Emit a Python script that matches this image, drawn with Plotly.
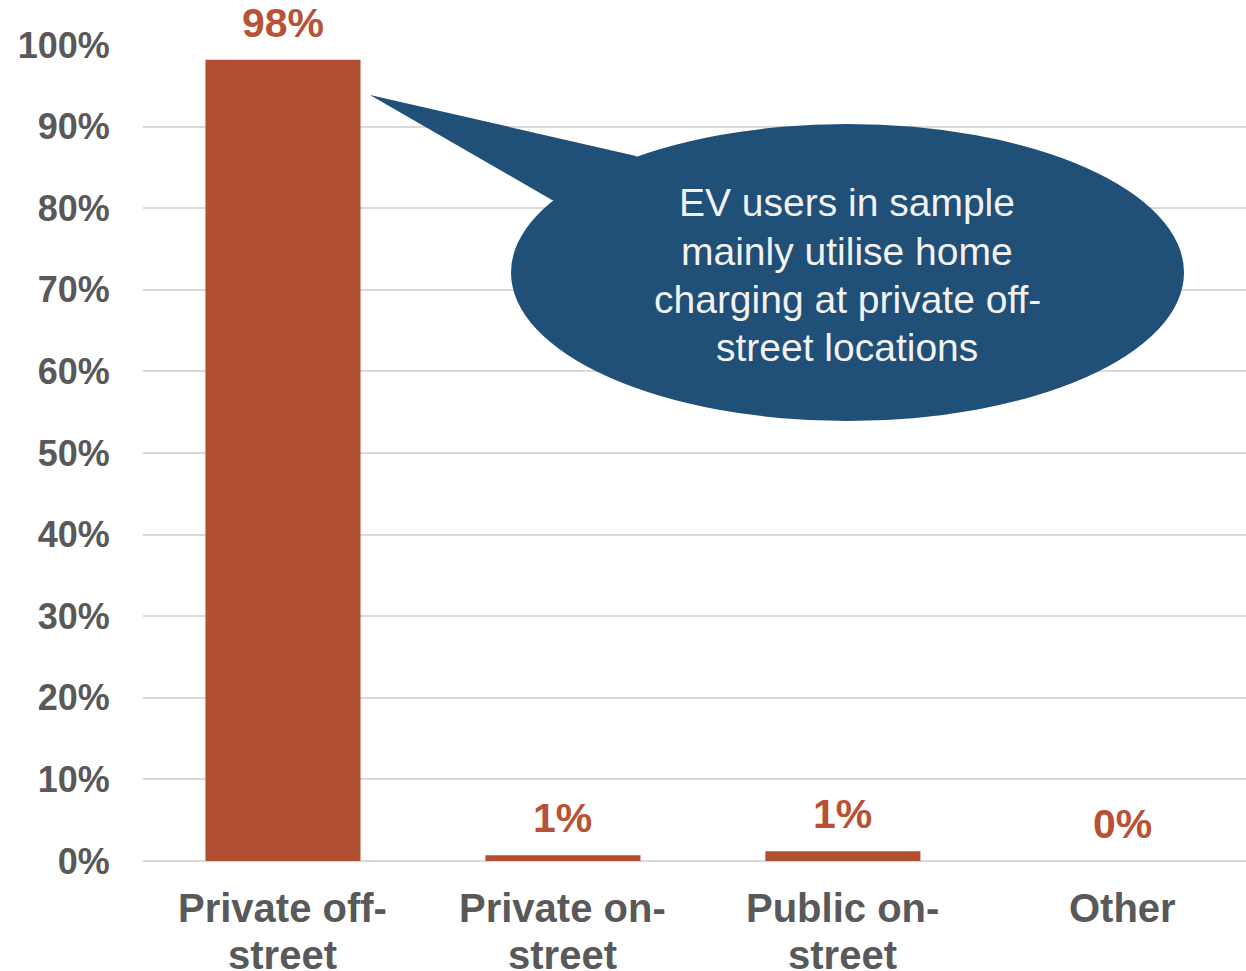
import plotly.graph_objects as go

category_lines = [["Private off-", "street"], ["Private on-", "street"],
                  ["Public on-", "street"], ["Other"]]
categories = [" ".join(c) for c in category_lines]
values = [98.2, 0.7, 1.2, 0.0]
labels = ["98%", "1%", "1%", "0%"]
tick_vals = [0, 10, 20, 30, 40, 50, 60, 70, 80, 90, 100]
tick_text = [f"{v}%" for v in tick_vals]
callout_lines = ["EV users in sample", "mainly utilise home",
                 "charging at private off-", "street locations"]

W, H = 1246, 971
PLOT_L, PLOT_T, PLOT_B = 143, 45, 861
L, T, R = PLOT_L, PLOT_T, 0
B = H - PLOT_B
PW, PH = W - L - R, H - T - B

BAR = "#B04F32"
LBL = "#B85236"
BLUE = "#204F78"
GRAY = "#595959"
FONT = "Liberation Sans, Arial, sans-serif"

def px(x):
    return (x - PLOT_L) / PW

def py(y):
    return (PLOT_B - y) / PH

x_idx = list(range(len(categories)))

fig = go.Figure()
fig.add_trace(go.Bar(
    x=x_idx, y=values, width=0.554,
    marker=dict(color=BAR, line=dict(width=0)),
    hoverinfo="skip", name="share",
))

for xi, v, t in zip(x_idx, values, labels):
    fig.add_annotation(x=xi, y=v, text=f"<b>{t}</b>", showarrow=False,
                       yanchor="bottom", yshift=12,
                       font=dict(family=FONT, size=41, color=LBL))

line_y = [908, 955]
for xi, lines in zip(x_idx, category_lines):
    for k, ln in enumerate(lines):
        fig.add_annotation(x=xi, xref="x", yref="paper", y=py(line_y[k]),
                           text=f"<b>{ln}</b>", showarrow=False,
                           xanchor="center", yanchor="middle",
                           font=dict(family=FONT, size=40, color=GRAY))

tip = (370, 95)
b1 = (636, 156)
inner = (720, 240)
b2 = (552, 200)
path = "M {} {} L {} {} L {} {} L {} {} Z".format(
    px(tip[0]), py(tip[1]), px(b1[0]), py(b1[1]),
    px(inner[0]), py(inner[1]), px(b2[0]), py(b2[1]))
fig.add_shape(type="path", path=path, xref="paper", yref="paper",
              fillcolor=BLUE, line=dict(width=0), layer="above")
fig.add_shape(type="circle", xref="paper", yref="paper",
              x0=px(511), x1=px(1184), y0=py(421), y1=py(124),
              fillcolor=BLUE, line=dict(width=0), layer="above")
callout_y = [203, 251, 299, 347]
for ln, yy in zip(callout_lines, callout_y):
    fig.add_annotation(xref="paper", yref="paper", x=px(847), y=py(yy),
                       text=ln, showarrow=False,
                       xanchor="center", yanchor="middle",
                       font=dict(family=FONT, size=39, color="#F2F2F2"))

fig.update_layout(
    width=W, height=H,
    margin=dict(l=L, r=R, t=T, b=B, pad=0),
    paper_bgcolor="white", plot_bgcolor="white",
    showlegend=False,
    font=dict(family=FONT, color=GRAY),
)
fig.update_xaxes(
    range=[-0.5, 3.44], tickvals=x_idx, showticklabels=False,
    showgrid=False, zeroline=False, showline=False, ticks="",
)
fig.update_yaxes(
    range=[0, 100], tickvals=tick_vals, ticktext=[f"<b>{t}</b>" for t in tick_text],
    tickfont=dict(family=FONT, size=36, color=GRAY),
    showgrid=True, gridcolor="#D9D9D9", gridwidth=2,
    zeroline=True, zerolinecolor="#D9D9D9", zerolinewidth=2,
    showline=False, ticks="outside", ticklen=25, tickcolor="white",
)

fig.write_html("out.html", config={"displayModeBar": False},
               post_script="document.body.style.margin='0';document.body.style.overflow='hidden';")
